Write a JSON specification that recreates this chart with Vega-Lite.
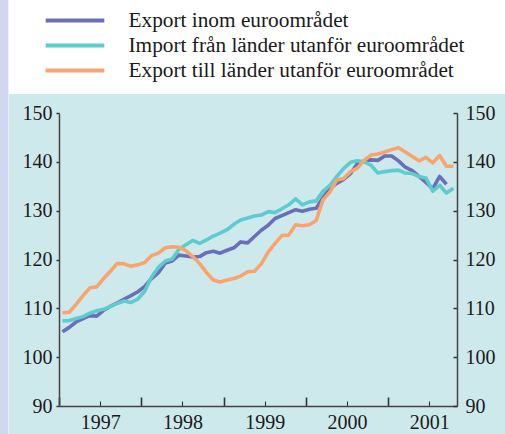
{
  "$schema": "https://vega.github.io/schema/vega-lite/v6.json",
  "width": 398,
  "height": 293,
  "autosize": {"type": "none"},
  "padding": {"left": 59, "top": 113, "right": 48, "bottom": 28},
  "background": "white",
  "config": {"view": {"stroke": null}, "font": "Liberation Serif"},
  "layer": [
    {
      "data": {"values": [{}]},
      "mark": {"type": "rect", "color": "#d3d6f0"},
      "encoding": {
        "x": {"datum": 1996.0, "type": "quantitative", "scale": {"domain": [1997, 2001.836], "nice": false, "zero": false}},
        "x2": {"datum": 1996.386},
        "y": {"datum": 80, "type": "quantitative", "scale": {"domain": [90, 150], "nice": false, "zero": false}, "axis": null},
        "y2": {"datum": 180}
      }
    },
    {
      "data": {"values": [{}]},
      "mark": {"type": "rect", "color": "#cee9ec"},
      "encoding": {
        "x": {"datum": 1996.392, "type": "quantitative", "scale": {"domain": [1997, 2001.836], "nice": false, "zero": false}},
        "x2": {"datum": 2003},
        "y": {"datum": 80, "type": "quantitative", "scale": {"domain": [90, 150], "nice": false, "zero": false},
          "axis": {"orient": "right", "title": null, "values": [90, 100, 110, 120, 130, 140, 150], "zindex": 2,
            "tickSize": -4, "tickColor": "#333", "tickWidth": 1.5, "domainColor": "#444", "domainWidth": 1.5,
            "labelFontSize": 20, "labelColor": "#1a1a1a", "labelPadding": 12, "labelFont": "Liberation Serif", "labelFlush": false, "labelOverlap": false}},
        "y2": {"datum": 153.89}
      }
    },
    {
      "data": {"values": [
        {"tid": 1997.042, "Export inom euroområdet": 105.2, "Import från länder utanför euroområdet": 107.4, "Export till länder utanför euroområdet": 109.1},
        {"tid": 1997.125, "Export inom euroområdet": 106.1, "Import från länder utanför euroområdet": 107.5, "Export till länder utanför euroområdet": 109.2},
        {"tid": 1997.208, "Export inom euroområdet": 107.2, "Import från länder utanför euroområdet": 107.9, "Export till länder utanför euroområdet": 110.8},
        {"tid": 1997.292, "Export inom euroområdet": 107.9, "Import från länder utanför euroområdet": 108.3, "Export till länder utanför euroområdet": 112.6},
        {"tid": 1997.375, "Export inom euroområdet": 108.5, "Import från länder utanför euroområdet": 109.0, "Export till länder utanför euroområdet": 114.2},
        {"tid": 1997.458, "Export inom euroområdet": 108.4, "Import från länder utanför euroområdet": 109.5, "Export till länder utanför euroområdet": 114.4},
        {"tid": 1997.542, "Export inom euroområdet": 109.6, "Import från länder utanför euroområdet": 109.8, "Export till länder utanför euroområdet": 116.1},
        {"tid": 1997.625, "Export inom euroområdet": 110.4, "Import från länder utanför euroområdet": 110.4, "Export till länder utanför euroområdet": 117.6},
        {"tid": 1997.708, "Export inom euroområdet": 111.1, "Import från länder utanför euroområdet": 111.0, "Export till länder utanför euroområdet": 119.2},
        {"tid": 1997.792, "Export inom euroområdet": 111.9, "Import från länder utanför euroområdet": 111.5, "Export till länder utanför euroområdet": 119.1},
        {"tid": 1997.875, "Export inom euroområdet": 112.6, "Import från länder utanför euroområdet": 111.2, "Export till länder utanför euroområdet": 118.6},
        {"tid": 1997.958, "Export inom euroområdet": 113.4, "Import från länder utanför euroområdet": 111.9, "Export till länder utanför euroområdet": 118.9},
        {"tid": 1998.042, "Export inom euroområdet": 114.5, "Import från länder utanför euroområdet": 113.5, "Export till länder utanför euroområdet": 119.4},
        {"tid": 1998.125, "Export inom euroområdet": 116.1, "Import från länder utanför euroområdet": 116.4, "Export till länder utanför euroområdet": 120.8},
        {"tid": 1998.208, "Export inom euroområdet": 117.3, "Import från länder utanför euroområdet": 118.4, "Export till länder utanför euroområdet": 121.3},
        {"tid": 1998.292, "Export inom euroområdet": 119.3, "Import från länder utanför euroområdet": 119.7, "Export till länder utanför euroområdet": 122.4},
        {"tid": 1998.375, "Export inom euroområdet": 119.7, "Import från länder utanför euroområdet": 120.1, "Export till länder utanför euroområdet": 122.6},
        {"tid": 1998.458, "Export inom euroområdet": 120.9, "Import från länder utanför euroområdet": 122.1, "Export till länder utanför euroområdet": 122.5},
        {"tid": 1998.542, "Export inom euroområdet": 120.7, "Import från länder utanför euroområdet": 123.0, "Export till länder utanför euroområdet": 121.8},
        {"tid": 1998.625, "Export inom euroområdet": 120.5, "Import från länder utanför euroområdet": 123.9, "Export till länder utanför euroområdet": 120.6},
        {"tid": 1998.708, "Export inom euroområdet": 120.6, "Import från länder utanför euroområdet": 123.3, "Export till länder utanför euroområdet": 119.2},
        {"tid": 1998.792, "Export inom euroområdet": 121.4, "Import från länder utanför euroområdet": 124.0, "Export till länder utanför euroområdet": 117.3},
        {"tid": 1998.875, "Export inom euroområdet": 121.7, "Import från länder utanför euroområdet": 124.8, "Export till länder utanför euroområdet": 115.8},
        {"tid": 1998.958, "Export inom euroområdet": 121.3, "Import från länder utanför euroområdet": 125.4, "Export till länder utanför euroområdet": 115.4},
        {"tid": 1999.042, "Export inom euroområdet": 121.9, "Import från länder utanför euroområdet": 126.1, "Export till länder utanför euroområdet": 115.8},
        {"tid": 1999.125, "Export inom euroområdet": 122.4, "Import från länder utanför euroområdet": 127.2, "Export till länder utanför euroområdet": 116.1},
        {"tid": 1999.208, "Export inom euroområdet": 123.6, "Import från länder utanför euroområdet": 128.1, "Export till länder utanför euroområdet": 116.6},
        {"tid": 1999.292, "Export inom euroområdet": 123.4, "Import från länder utanför euroområdet": 128.5, "Export till länder utanför euroområdet": 117.5},
        {"tid": 1999.375, "Export inom euroområdet": 124.7, "Import från länder utanför euroområdet": 128.9, "Export till länder utanför euroområdet": 117.6},
        {"tid": 1999.458, "Export inom euroområdet": 126.0, "Import från länder utanför euroområdet": 129.1, "Export till länder utanför euroområdet": 119.1},
        {"tid": 1999.542, "Export inom euroområdet": 127.0, "Import från länder utanför euroområdet": 129.8, "Export till länder utanför euroområdet": 121.5},
        {"tid": 1999.625, "Export inom euroområdet": 128.4, "Import från länder utanför euroområdet": 129.6, "Export till länder utanför euroområdet": 123.3},
        {"tid": 1999.708, "Export inom euroområdet": 129.0, "Import från länder utanför euroområdet": 130.4, "Export till länder utanför euroområdet": 124.9},
        {"tid": 1999.792, "Export inom euroområdet": 129.6, "Import från länder utanför euroområdet": 131.2, "Export till länder utanför euroområdet": 125.0},
        {"tid": 1999.875, "Export inom euroområdet": 130.2, "Import från länder utanför euroområdet": 132.4, "Export till länder utanför euroområdet": 127.1},
        {"tid": 1999.958, "Export inom euroområdet": 129.9, "Import från länder utanför euroområdet": 131.2, "Export till länder utanför euroområdet": 126.9},
        {"tid": 2000.042, "Export inom euroområdet": 130.3, "Import från länder utanför euroområdet": 131.8, "Export till länder utanför euroområdet": 127.1},
        {"tid": 2000.125, "Export inom euroområdet": 130.5, "Import från länder utanför euroområdet": 132.0, "Export till länder utanför euroområdet": 128.0},
        {"tid": 2000.208, "Export inom euroområdet": 132.7, "Import från länder utanför euroområdet": 134.0, "Export till länder utanför euroområdet": 132.2},
        {"tid": 2000.292, "Export inom euroområdet": 134.6, "Import från länder utanför euroområdet": 135.2, "Export till länder utanför euroområdet": 133.8},
        {"tid": 2000.375, "Export inom euroområdet": 135.6, "Import från länder utanför euroområdet": 137.0, "Export till länder utanför euroområdet": 136.3},
        {"tid": 2000.458, "Export inom euroområdet": 136.4, "Import från länder utanför euroområdet": 138.6, "Export till länder utanför euroområdet": 136.6},
        {"tid": 2000.542, "Export inom euroområdet": 137.6, "Import från länder utanför euroområdet": 139.9, "Export till länder utanför euroområdet": 138.0},
        {"tid": 2000.625, "Export inom euroområdet": 139.6, "Import från länder utanför euroområdet": 140.2, "Export till länder utanför euroområdet": 138.7},
        {"tid": 2000.708, "Export inom euroområdet": 140.2, "Import från länder utanför euroområdet": 140.0, "Export till länder utanför euroområdet": 140.3},
        {"tid": 2000.792, "Export inom euroområdet": 140.4, "Import från länder utanför euroområdet": 139.3, "Export till länder utanför euroområdet": 141.4},
        {"tid": 2000.875, "Export inom euroområdet": 140.3, "Import från länder utanför euroområdet": 137.7, "Export till länder utanför euroområdet": 141.6},
        {"tid": 2000.958, "Export inom euroområdet": 141.2, "Import från länder utanför euroområdet": 138.0, "Export till länder utanför euroområdet": 142.0},
        {"tid": 2001.042, "Export inom euroområdet": 141.2, "Import från länder utanför euroområdet": 138.2, "Export till länder utanför euroområdet": 142.5},
        {"tid": 2001.125, "Export inom euroområdet": 140.2, "Import från länder utanför euroområdet": 138.3, "Export till länder utanför euroområdet": 142.9},
        {"tid": 2001.208, "Export inom euroområdet": 138.9, "Import från länder utanför euroområdet": 137.7, "Export till länder utanför euroområdet": 142.0},
        {"tid": 2001.292, "Export inom euroområdet": 138.2, "Import från länder utanför euroområdet": 137.6, "Export till länder utanför euroområdet": 141.1},
        {"tid": 2001.375, "Export inom euroområdet": 137.0, "Import från länder utanför euroområdet": 137.0, "Export till länder utanför euroområdet": 140.2},
        {"tid": 2001.458, "Export inom euroområdet": 135.8, "Import från länder utanför euroområdet": 136.7, "Export till länder utanför euroområdet": 140.9},
        {"tid": 2001.542, "Export inom euroområdet": 134.5, "Import från länder utanför euroområdet": 134.0, "Export till länder utanför euroområdet": 139.8},
        {"tid": 2001.625, "Export inom euroområdet": 137.0, "Import från länder utanför euroområdet": 135.2, "Export till länder utanför euroområdet": 141.3},
        {"tid": 2001.708, "Export inom euroområdet": 135.4, "Import från länder utanför euroområdet": 133.6, "Export till länder utanför euroområdet": 139.1},
        {"tid": 2001.792, "Import från länder utanför euroområdet": 134.6, "Export till länder utanför euroområdet": 139.1}
      ]},
      "transform": [
        {"fold": ["Export inom euroområdet", "Import från länder utanför euroområdet", "Export till länder utanför euroområdet"], "as": ["serie", "varde"]},
        {"filter": "isValid(datum.varde)"}
      ],
      "mark": {"type": "line", "strokeWidth": 3.6, "strokeJoin": "round"},
      "encoding": {
        "x": {"field": "tid", "type": "quantitative", "scale": {"domain": [1997, 2001.836], "nice": false, "zero": false},
          "axis": {"title": null, "zindex": 2, "values": [1997, 1997.25, 1997.5, 1997.75, 1998, 1998.25, 1998.5, 1998.75, 1999, 1999.25, 1999.5, 1999.75, 2000, 2000.25, 2000.5, 2000.75, 2001, 2001.25, 2001.5, 2001.75],
            "labelExpr": "datum.value % 1 == 0.5 ? format(floor(datum.value), 'd') : ''",
            "tickSize": {"condition": {"test": "datum.value % 1 == 0", "value": -9}, "value": -5},
            "tickWidth": {"condition": {"test": "datum.value % 1 == 0", "value": 1.6}, "value": 1.1},
            "tickColor": "#333", "domainColor": "#444", "domainWidth": 1.5,
            "labelFontSize": 20, "labelColor": "#1a1a1a", "labelPadding": 11, "labelFont": "Liberation Serif", "labelFlush": false, "labelOverlap": false}},
        "y": {"field": "varde", "type": "quantitative", "scale": {"domain": [90, 150], "nice": false, "zero": false},
          "axis": {"orient": "left", "title": null, "values": [90, 100, 110, 120, 130, 140, 150], "zindex": 2,
            "tickSize": 3, "tickColor": "#333", "tickWidth": 1.5, "domainColor": "#444", "domainWidth": 1.5,
            "labelFontSize": 20, "labelColor": "#1a1a1a", "labelPadding": 4, "labelFont": "Liberation Serif", "labelFlush": false, "labelOverlap": false}},
        "color": {"field": "serie", "type": "nominal",
          "scale": {"domain": ["Export inom euroområdet", "Import från länder utanför euroområdet", "Export till länder utanför euroområdet"], "range": ["#6a70b8", "#5ccccf", "#f9a46e"]},
          "sort": ["Export inom euroområdet", "Import från länder utanför euroområdet", "Export till länder utanför euroområdet"],
          "legend": {"title": null, "orient": "none", "legendX": 2.5, "legendY": -106, "padding": 0, "rowPadding": 1,
            "symbolType": "M-2.55,0H2.55", "symbolSize": 529, "symbolStrokeWidth": 4, "labelFontSize": 21.3, "labelFont": "Liberation Serif",
            "labelColor": "#1a1a1a", "labelOffset": 40, "labelLimit": 0}}
      }
    }
  ],
  "resolve": {"axis": {"y": "independent"}}
}
